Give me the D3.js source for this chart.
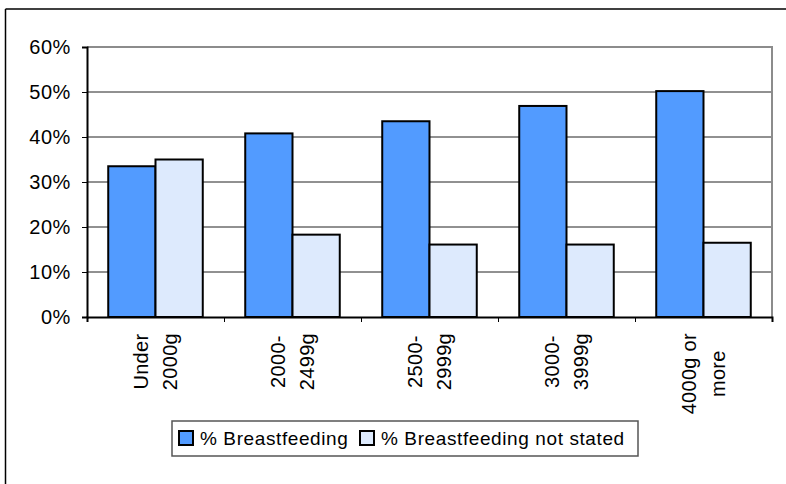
<!DOCTYPE html>
<html>
<head>
<meta charset="utf-8">
<script src="https://cdn.jsdelivr.net/npm/d3@7"></script>
<style>
  body { margin: 0; background: #fff; }
  svg text { font-family: "Liberation Sans", Arial, sans-serif; fill: #000; }
</style>
</head>
<body>
<div id="chart"></div>
<script>
const categories = [["Under", "2000g"], ["2000-", "2499g"], ["2500-", "2999g"], ["3000-", "3999g"], ["4000g or", "more"]];
const seriesNames = ["% Breastfeeding", "% Breastfeeding not stated"];
const breastfeeding = [33.5, 40.8, 43.5, 46.9, 50.2];
const notStated = [35.0, 18.3, 16.1, 16.1, 16.5];
const yTicks = [0, 10, 20, 30, 40, 50, 60];

(function() {
  const width = 786, height = 484;
  const plot = { left: 87, right: 772, top: 47, bottom: 317 };
  const colors = ["#529BFF", "#DDEAFD"];

  const svg = d3.select("#chart").append("svg")
    .attr("width", width).attr("height", height);

  // outer chart frame (only top and left visible)
  svg.append("line").attr("x1", 5.5).attr("x2", 5.5).attr("y1", 9).attr("y2", height)
    .attr("stroke", "#000").attr("stroke-width", 1.5);
  svg.append("line").attr("x1", 5.5).attr("x2", width).attr("y1", 9).attr("y2", 9)
    .attr("stroke", "#000").attr("stroke-width", 1.5);

  const x0 = d3.scaleBand().domain(d3.range(categories.length))
    .range([plot.left, plot.right]).paddingInner(0.31).paddingOuter(0.155);
  const x1 = d3.scaleBand().domain([0, 1]).range([0, x0.bandwidth()]);
  const y = d3.scaleLinear().domain([0, 60]).range([plot.bottom, plot.top]);

  // gridlines
  svg.append("g").selectAll("line").data(yTicks.filter(d => d > 0 && d < 60)).join("line")
    .attr("x1", plot.left).attr("x2", plot.right)
    .attr("y1", d => y(d)).attr("y2", d => y(d))
    .attr("stroke", "#222").attr("stroke-width", 1);

  // plot area border top/right
  svg.append("path")
    .attr("d", `M${plot.left},${y(60)}H${plot.right}V${plot.bottom}`)
    .attr("fill", "none").attr("stroke", "#8c8c8c").attr("stroke-width", 2);

  // bars
  const rows = categories.map((c, i) => [breastfeeding[i], notStated[i]]);
  const groups = svg.append("g").selectAll("g").data(rows).join("g")
    .attr("transform", (d, i) => `translate(${x0(i)},0)`);
  groups.selectAll("rect").data(d => d.map((v, k) => ({ v, k }))).join("rect")
    .attr("x", d => x1(d.k)).attr("width", x1.bandwidth())
    .attr("y", d => y(d.v)).attr("height", d => y(0) - y(d.v))
    .attr("fill", d => colors[d.k]).attr("stroke", "#000").attr("stroke-width", 2);

  // y axis
  const yAxis = svg.append("g").attr("transform", `translate(${plot.left},0)`)
    .call(d3.axisLeft(y).tickValues(yTicks).tickFormat(d => d + "%").tickSize(5).tickPadding(11));
  yAxis.select(".domain").attr("stroke", "#000").attr("stroke-width", 2);
  yAxis.selectAll(".tick line").attr("stroke", "#000").attr("stroke-width", 1);
  yAxis.selectAll("text").style("font-size", "20px").attr("letter-spacing", "0.6px")
    .style("font-family", "Liberation Sans, Arial, sans-serif");

  // x axis
  const xEdge = d3.scaleLinear().domain([0, categories.length]).range([plot.left, plot.right]);
  const xAxis = svg.append("g").attr("transform", `translate(0,${plot.bottom})`)
    .call(d3.axisBottom(xEdge).tickValues(d3.range(categories.length + 1)).tickFormat("").tickSize(5));
  xAxis.select(".domain").attr("stroke", "#000").attr("stroke-width", 2);
  xAxis.selectAll(".tick line").attr("stroke", "#000");

  // rotated category labels
  const labelTop = 333, lineGap = 29;
  categories.forEach((lines, i) => {
    const cx = x0(i) + x0.bandwidth() / 2;
    const g = svg.append("g");
    const texts = lines.map((t, j) => g.append("text").text(t)
      .style("font-size", "20px").attr("letter-spacing", "0.3px").attr("text-anchor", "middle"));
    const maxW = d3.max(texts, t => t.node().getComputedTextLength());
    const cy = labelTop + maxW / 2;
    texts.forEach((t, j) => {
      const bx = cx + (j - (lines.length - 1) / 2) * lineGap + 7;
      t.attr("transform", `translate(${bx},${cy}) rotate(-90)`);
    });
  });

  // legend
  const lg = svg.append("g");
  lg.append("rect").attr("x", 172).attr("y", 421).attr("width", 466).attr("height", 35)
    .attr("fill", "#fff").attr("stroke", "#555").attr("stroke-width", 1.5);
  const legendX = [179, 360];
  seriesNames.forEach((name, k) => {
    lg.append("rect").attr("x", legendX[k]).attr("y", 431).attr("width", 14).attr("height", 14)
      .attr("fill", colors[k]).attr("stroke", "#000").attr("stroke-width", 2);
    lg.append("text").attr("x", legendX[k] + 21).attr("y", 445).text(name)
      .style("font-size", "19px").attr("letter-spacing", "0.6px");
  });
})();
</script>
</body>
</html>
